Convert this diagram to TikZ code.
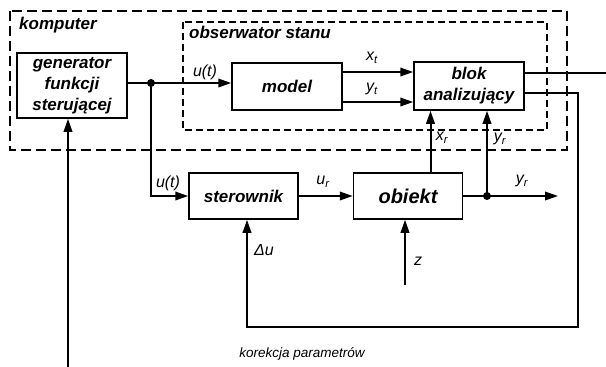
\documentclass[tikz,border=0pt]{standalone}
\usepackage{fontspec}
\setmainfont{Liberation Sans}
\usetikzlibrary{positioning,arrows.meta}

\tikzset{
  klocek/.style={draw, rectangle, line width=1.5pt, inner sep=0pt,
    minimum width=110pt, minimum height=47pt, align=center,
    font=\bfseries\itshape\fontsize{17}{21}\selectfont},
  sygnal/.style={line width=2pt, -{Triangle[length=13pt,width=8.5pt]}},
  linia/.style={line width=2pt},
  kropka/.style={circle, fill, inner sep=0pt, minimum size=8pt},
  opis/.style={inner sep=0pt, font=\itshape\fontsize{16}{16}\selectfont},
  tytul/.style={inner sep=0pt, font=\bfseries\itshape\fontsize{17}{17}\selectfont}
}

\begin{document}
\begin{tikzpicture}[x=1pt, y=-1pt]
	\useasboundingbox (0,0) rectangle (606,367);

	% obszary komputera i obserwatora
	\draw[line width=2.6pt, dash pattern=on 10pt off 5pt] (10,11) rectangle (567,150);
	\draw[line width=1.5pt, dash pattern=on 7pt off 4pt] (183,22) rectangle (547,130);
	\node (komp) [tytul, anchor=west] at (19,25) {komputer};
	\node (obs) [tytul, anchor=west] at (189,32) {obserwator stanu};

	% bloki
	\node (gen) [klocek, minimum height=65pt] at (72,85.5) {generator\\funkcji\\sterującej};
	\node (model) [klocek] at (287,86.5) {model};
	\node (analiz) [klocek, minimum height=48pt] at (469,86) {blok\\analizujący};
	\node (ster) [klocek, minimum width=109pt, minimum height=46pt] at (243.5,196) {sterownik};
	\node (obiekt) [klocek, minimum width=109pt, minimum height=46pt, right=54pt of ster,
		font=\bfseries\itshape\fontsize{20}{24}\selectfont] {obiekt};

	\node (w1) [kropka] at (151,83) {};
	\node (w2) [kropka] at (487,196) {};
	\coordinate (wy) at (558,196);
	\coordinate (zak) at (405,285);
	\coordinate (korekta) at (578,327);
	\coordinate (poza) at (630,380);

	% opisy sygnalow
	\node (ut1) [opis] at (205,72) {u(t)};
	\node (xt) [opis] at (372,58) {x\textsubscript{t}};
	\node (yt) [opis] at (372,89) {y\textsubscript{t}};
	\node (xr) [opis] at (442,138) {x\textsubscript{r}};
	\node (yr1) [opis] at (500,139) {y\textsubscript{r}};
	\node (ut2) [opis] at (168,183) {u(t)};
	\node (ur) [opis] at (323,182) {u\textsubscript{r}};
	\node (yr2) [opis] at (522,181) {y\textsubscript{r}};
	\node (du) [opis] at (264,250) {Δu};
	\node (z) [opis] at (418,261) {z};
	\node (kor) [inner sep=0pt, font=\itshape\fontsize{13.5}{13.5}\selectfont] at (302,354) {korekcja parametrów};

	% polaczenia
	\draw[linia] (gen.east |- w1) -- (w1.center);
	\draw[sygnal] (w1.center) -- (model.west |- w1);
	\draw[sygnal] ([yshift=14.5pt]model.east) -- ([yshift=14.5pt]model.east -| analiz.west);
	\draw[sygnal] ([yshift=-15.5pt]model.east) -- ([yshift=-15.5pt]model.east -| analiz.west);
	\draw[sygnal] (w1.center) |- (ster.west);
	\draw[sygnal] (ster) -- (obiekt);
	\draw[linia] (obiekt) -- (w2.center);
	\draw[sygnal] (w2.center) -- (wy);
	\draw[sygnal] (w2.center) -- (w2 |- analiz.south);
	\draw[sygnal] ([xshift=22.5pt]obiekt.north) -- ([xshift=22.5pt]obiekt.north |- analiz.south);
	\draw[sygnal] (zak) -- (zak |- obiekt.south);
	\draw[sygnal] ([yshift=-7pt]analiz.east) -| (korekta) -| ([xshift=3.5pt]ster.south);
	\draw[sygnal] ([yshift=13.5pt]analiz.east) -| (poza) -| ([xshift=-4pt]gen.south);
\end{tikzpicture}
\end{document}
